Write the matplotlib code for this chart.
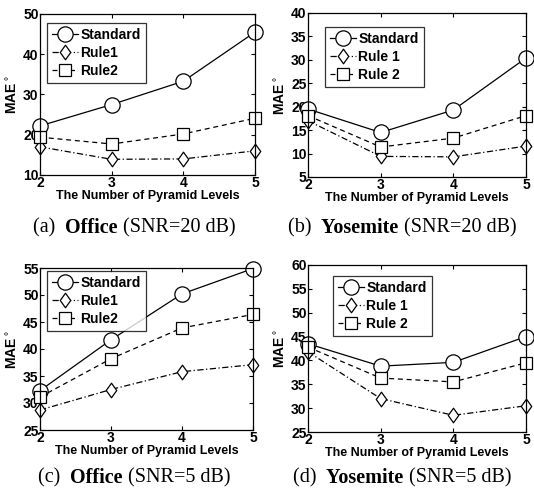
import matplotlib
matplotlib.use("Agg")
import matplotlib.pyplot as plt
from matplotlib.path import Path

levels = [2, 3, 4, 5]

office20_standard = [22.2, 27.5, 33.3, 45.5]
office20_rule1 = [17.0, 13.9, 14.0, 16.0]
office20_rule2 = [19.4, 17.7, 20.2, 24.1]

yosemite20_standard = [19.5, 14.5, 19.3, 30.4]
yosemite20_rule1 = [17.0, 9.4, 9.3, 11.6]
yosemite20_rule2 = [18.1, 11.4, 13.3, 18.1]

office5_standard = [32.3, 41.7, 50.2, 54.9]
office5_rule1 = [28.7, 32.5, 35.8, 37.1]
office5_rule2 = [31.1, 38.2, 43.9, 46.4]

yosemite5_standard = [43.5, 38.8, 39.6, 45.0]
yosemite5_rule1 = [41.8, 32.0, 28.5, 30.5]
yosemite5_rule2 = [42.8, 36.3, 35.5, 39.5]

W, H = 534, 498
fig = plt.figure(figsize=(W / 100, H / 100), dpi=100)

SANS = "Liberation Sans"
SERIF = "Liberation Serif"

# MATLAB-style diamond: a bit wider than matplotlib's thin diamond
DIAMOND = Path([(0, 1), (0.72, 0), (0, -1), (-0.72, 0), (0, 1)],
               [Path.MOVETO, Path.LINETO, Path.LINETO, Path.LINETO, Path.CLOSEPOLY])


def px_axes(left, top, right, bottom):
    return fig.add_axes([left / W, 1 - bottom / H, (right - left) / W, (bottom - top) / H])


def panel(ax, std, r1, r2, names, ylim, yticks):
    common = dict(color="k", lw=0.9, mfc="white", mec="k", mew=0.9, clip_on=False)
    ax.plot(levels, std, ls="-", marker="o", ms=11, label=names[0], **common)
    ax.plot(levels, r1, ls=(0, (5, 2, 1, 2)), marker=DIAMOND, ms=10.5, label=names[1], **common)
    ax.plot(levels, r2, ls=(0, (4, 3)), marker="s", ms=8.5, label=names[2], **common)
    ax.set_xlim(2, 5)
    ax.set_ylim(*ylim)
    ax.set_xticks(levels)
    ax.set_yticks(yticks)
    ax.tick_params(direction="in", top=True, right=True, length=3, width=0.8,
                   labelsize=10, pad=1)
    for lab in ax.get_xticklabels() + ax.get_yticklabels():
        lab.set_fontfamily(SANS)
        lab.set_fontweight("bold")
    for s in ax.spines.values():
        s.set_linewidth(0.9)
    ax.set_xlabel("The Number of Pyramid Levels", fontfamily=SANS, fontweight="bold",
                  fontsize=9, labelpad=0)
    ax.set_ylabel(r"MAE$^\circ$", fontfamily=SANS, fontweight="bold", fontsize=10,
                  labelpad=2)
    return ax


def add_legend(ax, loc_px):
    x0, y0 = loc_px
    leg = ax.legend(loc="upper left", bbox_to_anchor=(x0, y0), frameon=True, fancybox=False,
                    edgecolor="k", handlelength=1.9, handletextpad=0.15, borderpad=0.35,
                    labelspacing=0.3, borderaxespad=0,
                    prop={"family": SANS, "weight": "bold", "size": 10})
    leg.get_frame().set_linewidth(0.9)


ax_a = px_axes(40, 14, 255, 175)
panel(ax_a, office20_standard, office20_rule1, office20_rule2,
      ["Standard", "Rule1", "Rule2"], (10, 50), [10, 20, 30, 40, 50])
add_legend(ax_a, ((47 - 40) / 215, (175 - 23) / 161))

ax_b = px_axes(308, 13, 526, 177)
panel(ax_b, yosemite20_standard, yosemite20_rule1, yosemite20_rule2,
      ["Standard", "Rule 1", "Rule 2"], (5, 40), [5, 10, 15, 20, 25, 30, 35, 40])
add_legend(ax_b, ((325 - 308) / 218, (177 - 27) / 164))

ax_c = px_axes(40, 268, 253, 430)
panel(ax_c, office5_standard, office5_rule1, office5_rule2,
      ["Standard", "Rule1", "Rule2"], (25, 55), [25, 30, 35, 40, 45, 50, 55])
add_legend(ax_c, ((47 - 40) / 213, (430 - 271) / 162))

ax_d = px_axes(308, 265, 526, 432)
panel(ax_d, yosemite5_standard, yosemite5_rule1, yosemite5_rule2,
      ["Standard", "Rule 1", "Rule 2"], (25, 60), [25, 30, 35, 40, 45, 50, 55, 60])
add_legend(ax_d, ((333 - 308) / 218, (432 - 276) / 167))

# Sub-figure captions: "(x) " regular, scene name bold, condition regular
captions = [
    (134, 228, "(a)", "Office", "(SNR=20 dB)"),
    (402, 228, "(b)", "Yosemite", "(SNR=20 dB)"),
    (134, 478, "(c)", "Office", "(SNR=5 dB)"),
    (402, 478, "(d)", "Yosemite", "(SNR=5 dB)"),
]
fig.canvas.draw()
renderer = fig.canvas.get_renderer()
for cx, cy, tag, name, cond in captions:
    parts = [(tag + "  ", "normal"), (name + " ", "bold"), (cond, "normal")]
    texts = []
    for s, w in parts:
        t = fig.text(0, 1 - cy / H, s, fontfamily=SERIF, fontweight=w, fontsize=14.5,
                     va="center", ha="left")
        texts.append(t)
    widths = [t.get_window_extent(renderer).width for t in texts]
    x = cx - sum(widths) / 2
    for t, w in zip(texts, widths):
        t.set_x(x / W)
        x += w

fig.savefig("out.png", dpi=100)
